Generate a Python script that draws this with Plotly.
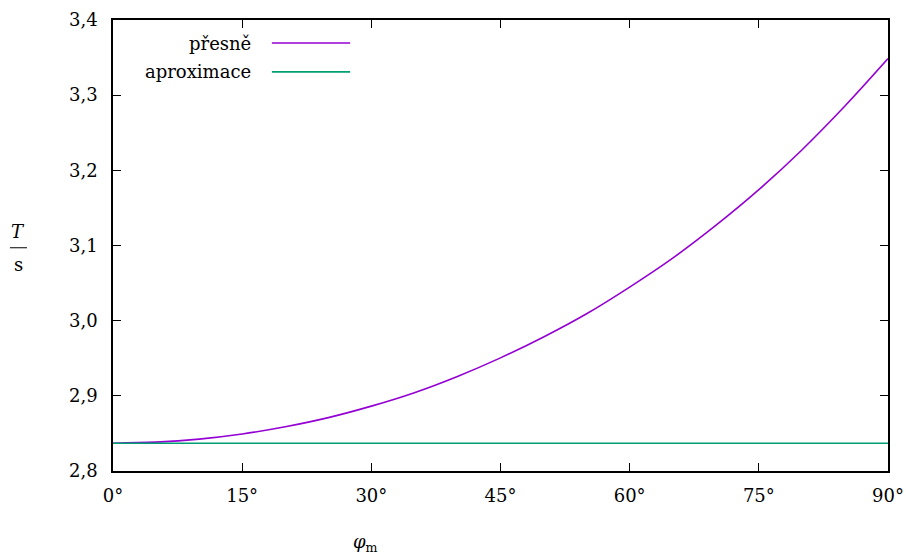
import plotly.graph_objects as go

# amplitude in degrees
phi_m = [0, 5, 10, 15, 20, 25, 30, 35, 40, 45, 50, 55, 60, 65, 70, 75, 80, 85, 90]
# period (s)
T_exact = [2.837, 2.8384, 2.8424, 2.8492, 2.8588, 2.8710, 2.8863, 2.9042, 2.9258,
           2.9505, 2.9783, 3.0092, 3.0447, 3.0832, 3.1267, 3.1743, 3.2271, 3.2855, 3.3486]
T_approx = [2.837] * len(phi_m)

series_names = ["přesně", "aproximace"]
colors = ["#9400D3", "#009E73"]
x_ticks = [0, 15, 30, 45, 60, 75, 90]
x_tick_labels = ["0°", "15°", "30°", "45°", "60°", "75°", "90°"]
y_ticks = [2.8, 2.9, 3.0, 3.1, 3.2, 3.3, 3.4]
y_tick_labels = ["2,8", "2,9", "3,0", "3,1", "3,2", "3,3", "3,4"]

FONT = "DejaVu Serif, serif"
FS = 18

fig = go.Figure()
fig.add_trace(go.Scatter(x=phi_m, y=T_exact, mode="lines", name=series_names[0],
                         line=dict(color=colors[0], width=1.6, shape="spline"),
                         showlegend=False))
fig.add_trace(go.Scatter(x=phi_m, y=T_approx, mode="lines", name=series_names[1],
                         line=dict(color=colors[1], width=1.6),
                         showlegend=False))

axis_common = dict(showline=True, linecolor="black", linewidth=1.5, mirror="ticks",
                   ticks="inside", ticklen=8, tickwidth=1, tickcolor="black",
                   showgrid=False, zeroline=False, automargin=False,
                   tickfont=dict(family=FONT, size=FS, color="black"))

fig.update_xaxes(range=[0, 90], tickmode="array", tickvals=x_ticks,
                 ticktext=x_tick_labels, ticklabelstandoff=8, **axis_common)
fig.update_yaxes(range=[2.8, 3.4], tickmode="array", tickvals=y_ticks,
                 ticktext=y_tick_labels, ticklabelstandoff=10, **axis_common)

# custom gnuplot-style legend (text, then sample line)
leg_y = [0.949, 0.885]
for name, col, yy in zip(series_names, colors, leg_y):
    fig.add_annotation(xref="paper", yref="paper", x=0.181, y=yy, text=name,
                       showarrow=False, xanchor="right", yanchor="middle",
                       font=dict(family=FONT, size=FS, color="black"))
    fig.add_shape(type="line", xref="paper", yref="paper", x0=0.205, x1=0.306,
                  y0=yy, y1=yy, line=dict(color=col, width=1.6))

# y label as fraction T / s
fig.add_annotation(xref="paper", yref="paper", x=-0.122, y=0.532, text="<i>T</i>",
                   showarrow=False, xanchor="center", yanchor="middle",
                   font=dict(family=FONT, size=FS, color="black"))
fig.add_annotation(xref="paper", yref="paper", x=-0.122, y=0.458, text="s",
                   showarrow=False, xanchor="center", yanchor="middle",
                   font=dict(family=FONT, size=FS, color="black"))
fig.add_shape(type="line", xref="paper", yref="paper", x0=-0.133, x1=-0.111,
              y0=0.495, y1=0.495, line=dict(color="black", width=1))

# x label
fig.add_annotation(xref="paper", yref="paper", x=0.326, y=-0.16,
                   text="<i>φ</i><sub>m</sub>", showarrow=False,
                   xanchor="center", yanchor="middle",
                   font=dict(family=FONT, size=FS, color="black"))

fig.update_layout(width=906, height=557,
                  margin=dict(l=113, r=18, t=20, b=86, pad=0),
                  paper_bgcolor="white", plot_bgcolor="white",
                  font=dict(family=FONT, size=FS, color="black"))

fig.write_html("out.html", config={"displayModeBar": False},
               post_script="document.body.style.margin='0';document.body.style.padding='0';")
